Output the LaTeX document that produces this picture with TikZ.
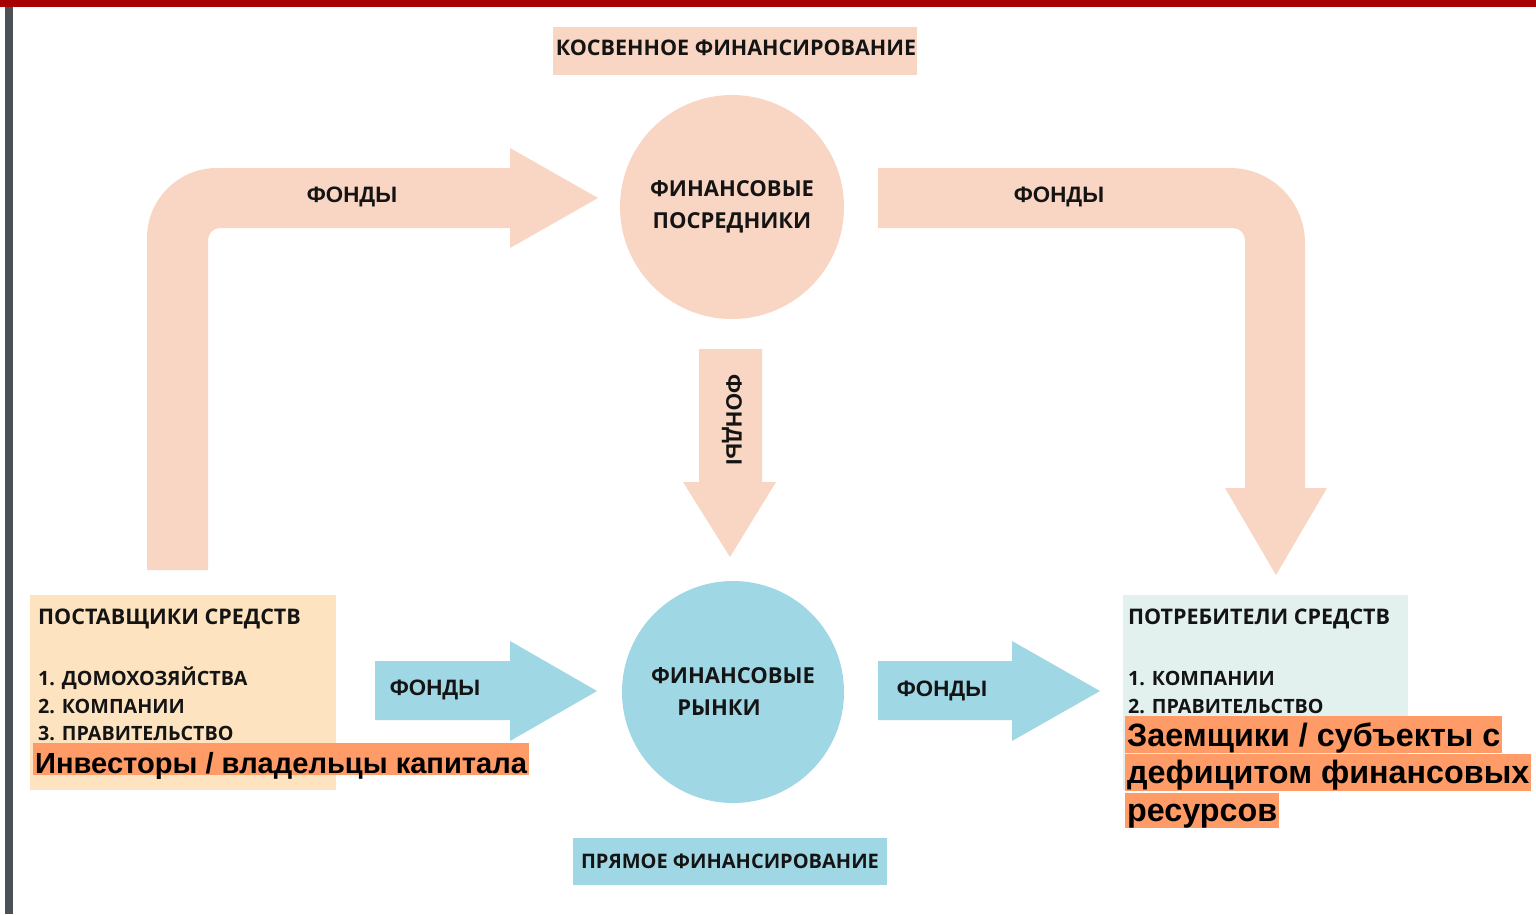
\documentclass[tikz,border=0pt]{standalone}
\usepackage{fontspec}
\setmainfont{Open Sans}
\newfontfamily\arialf{Liberation Sans}
\definecolor{topred}{RGB}{166,0,0}
\definecolor{sidegray}{RGB}{75,81,84}
\definecolor{peach}{RGB}{249,213,195}
\definecolor{skyb}{RGB}{160,215,229}
\definecolor{leftbox}{RGB}{253,227,191}
\definecolor{rightbox}{RGB}{226,241,238}
\definecolor{hl}{RGB}{255,155,102}
\definecolor{ink}{RGB}{20,20,20}
\begin{document}
\begin{tikzpicture}[x=1pt,y=-1pt,
  lbl/.style={font=\bfseries\fontsize{#1}{#1}\selectfont, text=ink, inner sep=0pt},
  fonds/.style={font=\arialf\bfseries\fontsize{22.3}{22.3}\selectfont, text=ink, inner sep=0pt},
  item/.style={font=\bfseries\fontsize{#1}{#1}\selectfont, text=ink, inner sep=0pt, anchor=base west},
  hlt/.style={font=\arialf\bfseries\fontsize{#1}{#1}\selectfont, text=black, fill=hl, inner ysep=0pt, inner xsep=2pt, anchor=north west}
]
\useasboundingbox (0,0) rectangle (1536,914);
\fill[white] (0,0) rectangle (1536,914);
% frame bars
\fill[topred] (0,0) rectangle (1536,7);
\fill[sidegray] (5,7) rectangle (13,914);

% header labels
\node[fill=peach, minimum width=364pt, minimum height=48pt, inner sep=0pt] (kos) at (735,51) {};
\node[lbl=21.5] at (736,48) {КОСВЕННОЕ ФИНАНСИРОВАНИЕ};
\node[fill=skyb, minimum width=314pt, minimum height=47pt, inner sep=0pt] (pryam) at (730,861.5) {};
\node[lbl=20] at (pryam.center) {ПРЯМОЕ ФИНАНСИРОВАНИЕ};

% circles
\node[circle, fill=peach, minimum size=224pt, inner sep=0pt] (fp) at (732,207) {};
\node[lbl=22, align=center] at (fp.center) {ФИНАНСОВЫЕ\\[10pt]ПОСРЕДНИКИ};
\node[circle, fill=skyb, minimum size=222pt, inner sep=0pt] (fr) at (733,692) {};
\node[lbl=22, align=center] at (fr.center) {ФИНАНСОВЫЕ\\[10pt]РЫНКИ\hspace*{28pt}};

% boxes
\node[fill=leftbox, minimum width=306pt, minimum height=195pt, inner sep=0pt, anchor=north west] (sup) at (30,595) {};
\node[fill=rightbox, minimum width=285pt, minimum height=195pt, inner sep=0pt, anchor=north west] (con) at (1123,595) {};

% bent arrow left
\fill[peach] (147,570) -- (147,238) .. controls (147,199.3) and (178.3,168) .. (217,168)
  -- (510,168) -- (510,148) -- (598,198) -- (510,248) -- (510,228) -- (220,228)
  .. controls (213.4,228) and (208,233.4) .. (208,240) -- (208,570) -- cycle;
\node[fonds] (f1) at (352,197) {ФОНДЫ};
% bent arrow right
\fill[peach] (878,168) -- (1230,168) .. controls (1271.4,168) and (1305,201.6) .. (1305,243)
  -- (1305,488) -- (1327,488) -- (1276,575) -- (1225,488) -- (1245,488) -- (1245,240)
  .. controls (1245,233.4) and (1239.6,228) .. (1233,228) -- (878,228) -- cycle;
\node[fonds] (f2) at (1059,197) {ФОНДЫ};
% down arrow
\fill[peach] (699,349) -- (762,349) -- (762,482) -- (776,482) -- (730,557) -- (683,482) -- (699,482) -- cycle;
\node[fonds, rotate=-90] (f3) at (732,420) {ФОНДЫ};
% blue arrows
\fill[skyb] (375,661) -- (510,661) -- (510,641) -- (597,691) -- (510,741) -- (510,720) -- (375,720) -- cycle;
\node[fonds] (f4) at (435,690) {ФОНДЫ};
\fill[skyb] (878,661) -- (1012,661) -- (1012,641) -- (1100,691) -- (1012,741) -- (1012,720) -- (878,720) -- cycle;
\node[fonds] (f5) at (942,691) {ФОНДЫ};

% left box text
\node[item=21.5] at (38,624) {ПОСТАВЩИКИ СРЕДСТВ};
\node[item=19.7] at (38,685) {1. ДОМОХОЗЯЙСТВА};
\node[item=19.7] at (38,713) {2. КОМПАНИИ};
\node[item=19.7] at (38,740) {3. ПРАВИТЕЛЬСТВО};
\node[hlt=29.1, text height=30pt, text depth=2pt] (inv) at (33,743) {Инвесторы / владельцы капитала};

% right box text
\node[item=21.5] at (1128,624) {ПОТРЕБИТЕЛИ СРЕДСТВ};
\node[item=19.7] at (1128,685) {1. КОМПАНИИ};
\node[item=19.7] at (1128,713) {2. ПРАВИТЕЛЬСТВО};
\node[hlt=32.3, text height=30pt, text depth=7pt] (z1) at (1125,716) {Заемщики / субъекты с };
\node[hlt=32.3, text height=29pt, text depth=8pt] (z2) at (1125,754) {дефицитом финансовых};
\node[hlt=32.3, text height=28pt, text depth=7pt] (z3) at (1125,793) {ресурсов};
\end{tikzpicture}
\end{document}
